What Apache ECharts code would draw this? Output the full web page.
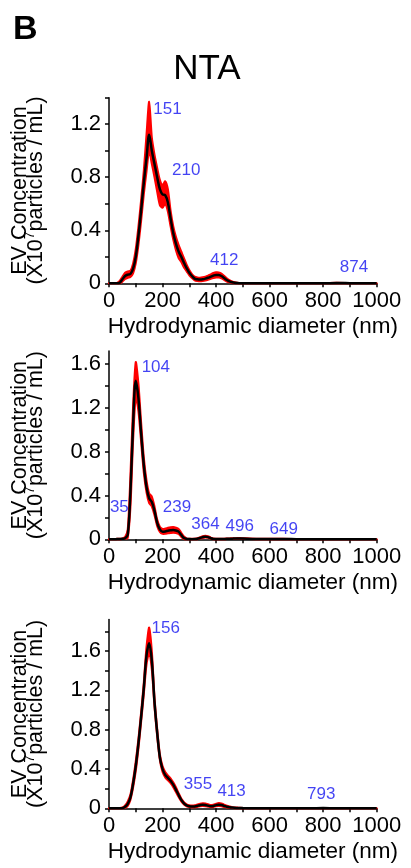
<!DOCTYPE html>
<html>
<head>
<meta charset="utf-8">
<script src="https://cdn.jsdelivr.net/npm/echarts@6/dist/echarts.min.js"></script>
<style>
  html, body { margin: 0; padding: 0; background: #fff; }
  #chart { width: 411px; height: 868px; }
</style>
</head>
<body>
<div id="chart"></div>
<script>
// Hydrodynamic diameter bins (nm)
const diameters = [
  0, 10, 20, 30, 40, 50, 60, 70, 80, 90,
  100, 110, 120, 130, 140, 150, 160, 170, 180, 190,
  200, 210, 220, 230, 240, 250, 260, 270, 280, 290,
  300, 310, 320, 330, 340, 350, 360, 370, 380, 390,
  400, 410, 420, 430, 440, 450, 460, 470, 480, 490,
  500, 550, 600, 650, 700, 750, 800, 850, 900, 950, 1000
];

// Sample 1: mean concentration and its upper / lower error bounds (x10^7 particles/mL)
const mean1 = [
  0, 0, 0, 0, 0.005, 0.03, 0.055, 0.065, 0.07, 0.11,
  0.2, 0.36, 0.55, 0.76, 0.94, 1.12, 1.0, 0.9, 0.8, 0.71,
  0.67, 0.665, 0.61, 0.49, 0.38, 0.3, 0.24, 0.2, 0.155, 0.115,
  0.08, 0.055, 0.035, 0.03, 0.028, 0.03, 0.035, 0.042, 0.05, 0.058,
  0.063, 0.062, 0.055, 0.04, 0.025, 0.015, 0.008, 0.004, 0.002, 0.001,
  0, 0, 0, 0, 0, 0, 0, 0.002, 0.001, 0, 0
];
const upper1 = [
  0, 0, 0, 0.002, 0.018, 0.05, 0.08, 0.09, 0.095, 0.15,
  0.26, 0.43, 0.63, 0.85, 1.12, 1.37, 1.1, 0.97, 0.87, 0.78,
  0.74, 0.77, 0.71, 0.55, 0.43, 0.35, 0.29, 0.24, 0.19, 0.14,
  0.1, 0.07, 0.05, 0.044, 0.042, 0.045, 0.05, 0.058, 0.068, 0.078,
  0.083, 0.082, 0.074, 0.057, 0.038, 0.024, 0.014, 0.008, 0.005, 0.003,
  0.002, 0.001, 0.001, 0.001, 0.001, 0.001, 0.001, 0.004, 0.002, 0.001, 0
];
const lower1 = [
  0, 0, 0, 0, 0, 0.012, 0.032, 0.042, 0.048, 0.075,
  0.15, 0.29, 0.47, 0.67, 0.84, 1.0, 0.9, 0.8, 0.69, 0.59,
  0.57, 0.6, 0.54, 0.43, 0.33, 0.25, 0.19, 0.16, 0.12, 0.09,
  0.06, 0.04, 0.022, 0.017, 0.015, 0.017, 0.021, 0.027, 0.034, 0.04,
  0.044, 0.043, 0.037, 0.025, 0.013, 0.007, 0.003, 0.001, 0, 0,
  0, 0, 0, 0, 0, 0, 0, 0, 0, 0, 0
];
const peaks1 = [151, 210, 412, 874];

// Sample 2
const mean2 = [
  0, 0, 0, 0.002, 0.003, 0.005, 0.01, 0.04, 0.43, 1.05,
  1.45, 1.29, 0.97, 0.68, 0.48, 0.375, 0.34, 0.26, 0.15, 0.09,
  0.07, 0.072, 0.078, 0.082, 0.085, 0.08, 0.07, 0.04, 0.012, 0.004,
  0.002, 0.001, 0.002, 0.005, 0.012, 0.02, 0.024, 0.02, 0.01, 0.004,
  0.002, 0.002, 0.002, 0.003, 0.004, 0.005, 0.006, 0.007, 0.008, 0.008,
  0.007, 0.003, 0.002, 0.003, 0.001, 0, 0, 0, 0, 0, 0
];
const upper2 = [
  0, 0, 0.001, 0.004, 0.005, 0.008, 0.02, 0.09, 0.58, 1.22,
  1.62, 1.42, 1.07, 0.75, 0.54, 0.42, 0.39, 0.3, 0.18, 0.115,
  0.095, 0.098, 0.105, 0.11, 0.112, 0.106, 0.095, 0.06, 0.025, 0.009,
  0.005, 0.004, 0.005, 0.01, 0.019, 0.029, 0.033, 0.028, 0.016, 0.007,
  0.005, 0.005, 0.005, 0.006, 0.007, 0.008, 0.009, 0.01, 0.011, 0.011,
  0.01, 0.005, 0.004, 0.005, 0.002, 0.001, 0.001, 0, 0, 0, 0
];
const lower2 = [
  0, 0, 0, 0, 0.001, 0.002, 0.004, 0.012, 0.29, 0.9,
  1.3, 1.17, 0.89, 0.61, 0.43, 0.33, 0.3, 0.22, 0.12, 0.068,
  0.05, 0.05, 0.055, 0.058, 0.06, 0.057, 0.048, 0.022, 0.003, 0,
  0, 0, 0, 0.001, 0.006, 0.012, 0.016, 0.013, 0.005, 0.001,
  0, 0, 0, 0.001, 0.002, 0.003, 0.004, 0.005, 0.006, 0.006,
  0.005, 0.001, 0, 0.001, 0, 0, 0, 0, 0, 0, 0
];
const peaks2 = [35, 104, 239, 364, 496, 649];

// Sample 3
const mean3 = [
  0, 0, 0, 0, 0, 0.002, 0.015, 0.045, 0.11, 0.25,
  0.43, 0.66, 0.93, 1.22, 1.55, 1.68, 1.5, 1.08, 0.77, 0.52,
  0.4, 0.34, 0.31, 0.28, 0.24, 0.19, 0.135, 0.085, 0.05, 0.03,
  0.021, 0.018, 0.019, 0.025, 0.032, 0.036, 0.034, 0.027, 0.021, 0.024,
  0.032, 0.037, 0.034, 0.025, 0.016, 0.01, 0.007, 0.005, 0.004, 0.003,
  0.002, 0.001, 0.001, 0, 0.001, 0.001, 0.002, 0.001, 0, 0, 0
];
const upper3 = [
  0, 0, 0, 0, 0.002, 0.008, 0.03, 0.07, 0.14, 0.29,
  0.48, 0.71, 0.98, 1.28, 1.64, 1.84, 1.6, 1.13, 0.81, 0.55,
  0.43, 0.37, 0.335, 0.305, 0.265, 0.215, 0.155, 0.1, 0.063, 0.041,
  0.031, 0.028, 0.03, 0.038, 0.047, 0.052, 0.05, 0.041, 0.033, 0.037,
  0.047, 0.054, 0.05, 0.038, 0.026, 0.018, 0.012, 0.009, 0.007, 0.005,
  0.004, 0.002, 0.002, 0.001, 0.002, 0.002, 0.003, 0.002, 0.001, 0, 0
];
const lower3 = [
  0, 0, 0, 0, 0, 0, 0.005, 0.025, 0.085, 0.21,
  0.38, 0.61, 0.88, 1.16, 1.46, 1.58, 1.41, 1.03, 0.73, 0.49,
  0.37, 0.315, 0.285, 0.255, 0.215, 0.165, 0.115, 0.07, 0.038, 0.02,
  0.012, 0.009, 0.01, 0.014, 0.02, 0.023, 0.021, 0.016, 0.011, 0.013,
  0.02, 0.024, 0.021, 0.014, 0.008, 0.004, 0.002, 0.001, 0.001, 0,
  0, 0, 0, 0, 0, 0, 0, 0, 0, 0, 0
];
const peaks3 = [156, 355, 413, 793];

// Axis ticks and tick labels
const xTickLabels = [0, 200, 400, 600, 800, 1000];
const yMax = [1.4, 1.72, 1.92];
const yTicks = [
  [0, 0.2, 0.4, 0.6, 0.8, 1.0, 1.2, 1.4],
  [0, 0.2, 0.4, 0.6, 0.8, 1.0, 1.2, 1.4, 1.6],
  [0, 0.2, 0.4, 0.6, 0.8, 1.0, 1.2, 1.4, 1.6, 1.8]
];
const yTickLabels = [
  [0, 0.4, 0.8, 1.2],
  [0, 0.4, 0.8, 1.2, 1.6],
  [0, 0.4, 0.8, 1.2, 1.6]
];

// ---- layout and styling ----
const FONT = "'Liberation Sans', Arial, Helvetica, sans-serif";
const RED = '#ff0000';
const BLUE = '#1414f0';

// where each peak annotation sits: height on the y scale and a sideways nudge in px
const peakLabelPlacement = [
  [[1.31, 18], [0.85, 21], [0.17, 5], [0.12, 11]],
  [[0.29, 1], [1.57, 19], [0.29, 4], [0.138, -1], [0.123, -2], [0.092, 1]],
  [[1.83, 15], [0.242, -6], [0.169, 12], [0.14, 0]]
];

const grids = [
  { left: 109, top: 97.7, width: 267.7, height: 185.6 },
  { left: 109, top: 351.1, width: 267.7, height: 188.2 },
  { left: 109, top: 619.6, width: 267.7, height: 188.7 }
];

const panels = [
  { mean: mean1, upper: upper1, lower: lower1, peaks: peaks1 },
  { mean: mean2, upper: upper2, lower: lower2, peaks: peaks2 },
  { mean: mean3, upper: upper3, lower: lower3, peaks: peaks3 }
];

const axisLineStyle = { color: '#000', width: 1.5 };
const tickFont = { color: '#000', fontSize: 22, fontFamily: FONT };

// error band: one filled outline running along the upper bound and back along the lower bound
function renderBand(params, api) {
  if (params.dataIndexInside !== 0) return null;
  const n = params.dataInsideLength;
  const top = [];
  const bottom = [];
  for (let k = 0; k < n; k++) {
    const d = api.value(0, k);
    top.push(api.coord([d, api.value(1, k)]));
    bottom.push(api.coord([d, api.value(2, k)]));
  }
  const pts = top.concat(bottom.reverse());
  return {
    type: 'polygon',
    shape: { points: pts, smooth: 0.25 },
    style: { fill: RED, stroke: RED, lineWidth: 2, lineJoin: 'round' }
  };
}

const xAxes = [];
const yAxes = [];
const series = [];

panels.forEach((p, i) => {
  xAxes.push({
    type: 'value',
    gridIndex: i,
    min: 0,
    max: 1000,
    interval: 100,
    name: 'Hydrodynamic diameter (nm)',
    nameLocation: 'middle',
    nameGap: 32,
    nameTextStyle: { color: '#000', fontSize: 22.5, fontFamily: FONT, padding: [0, 0, 0, 20] },
    axisLine: { show: true, lineStyle: axisLineStyle },
    axisTick: { show: true, length: 4, lineStyle: axisLineStyle },
    axisLabel: { ...tickFont, margin: 7, customValues: xTickLabels, formatter: (v) => String(v) },
    splitLine: { show: false }
  });
  yAxes.push({
    type: 'value',
    gridIndex: i,
    min: 0,
    max: yMax[i],
    name: '{a|EV Concentration}\n{a|(X10}{s|7}{a|particles / mL)}',
    nameLocation: 'middle',
    nameGap: 65,
    nameTextStyle: {
      color: '#000', fontFamily: FONT,
      rich: {
        a: { fontSize: 21.5, lineHeight: 16, fontFamily: FONT, color: '#000' },
        s: { fontSize: 14, lineHeight: 16, fontFamily: FONT, color: '#000', verticalAlign: 'bottom', padding: [0, 0, 7, 0] }
      }
    },
    axisLine: { show: true, lineStyle: axisLineStyle },
    axisTick: { show: true, length: 4, lineStyle: axisLineStyle, customValues: yTicks[i] },
    axisLabel: { ...tickFont, margin: 8, customValues: yTickLabels[i], formatter: (v) => String(v) },
    splitLine: { show: false }
  });

  series.push({
    type: 'custom', xAxisIndex: i, yAxisIndex: i,
    data: diameters.map((d, k) => [d, p.upper[k], p.lower[k]]),
    encode: { x: 0, y: [1, 2] },
    renderItem: renderBand,
    z: 2
  });
  series.push({
    type: 'line', xAxisIndex: i, yAxisIndex: i,
    data: diameters.map((d, k) => [d, p.mean[k]]),
    symbol: 'none', smooth: 0.35,
    lineStyle: { color: '#000', width: 2.5 }, z: 3
  });
  series.push({
    type: 'scatter', xAxisIndex: i, yAxisIndex: i,
    symbolSize: 0, z: 4, clip: false,
    data: p.peaks.map((pk, k) => ({
      value: [pk, peakLabelPlacement[i][k][0]],
      label: { offset: [peakLabelPlacement[i][k][1], 0] }
    })),
    label: {
      show: true, position: 'inside', color: BLUE, fontSize: 17, fontFamily: FONT,
      formatter: (prm) => String(prm.value[0])
    }
  });
});

const chart = echarts.init(document.getElementById('chart'), null, { renderer: 'canvas' });
chart.setOption({
  animation: false,
  backgroundColor: '#fff',
  title: [
    { text: 'B', left: 8, top: 8, textStyle: { fontSize: 34, fontWeight: 'bold', fontFamily: FONT, color: '#000' } },
    { text: 'NTA', left: 202, top: 47, textAlign: 'center', textStyle: { fontSize: 35, fontWeight: 'normal', fontFamily: FONT, color: '#000' } }
  ],
  grid: grids,
  xAxis: xAxes,
  yAxis: yAxes,
  series: series
});
</script>
</body>
</html>
